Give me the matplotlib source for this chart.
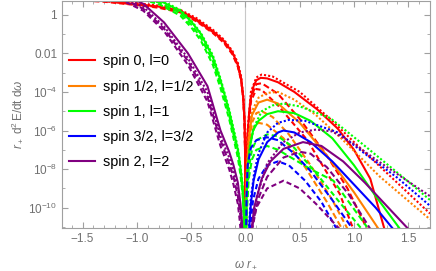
import numpy as np
import matplotlib.pyplot as plt
from matplotlib.ticker import FixedLocator, NullFormatter

plt.rcParams['font.family'] = ['Liberation Sans', 'DejaVu Sans']
plt.rcParams['mathtext.fontset'] = 'custom'
plt.rcParams['mathtext.rm'] = 'Liberation Sans'
plt.rcParams['mathtext.it'] = 'Liberation Sans:italic'

# values are log10(r+ d2E/dt dw)
# spin 0, l=0
w_s0_solid = [-1.7, -1.3, -1.0, -0.8, -0.6, -0.45, -0.3, -0.2, -0.12, -0.07, -0.04, -0.02, -0.008, -0.002, 0.0,
              0.002, 0.01, 0.02, 0.035, 0.05, 0.075, 0.1, 0.14, 0.2, 0.3, 0.45, 0.66, 0.85, 1.0, 1.15, 1.3]
y_s0_solid = [0.85, 0.72, 0.55, 0.42, 0.2, -0.25, -0.85, -1.35, -1.95, -2.6, -3.3, -4.3, -5.6, -7.6, -14,
              -9, -7.5, -6.2, -5.0, -4.3, -3.7, -3.4, -3.27, -3.3, -3.5, -4.0, -4.9, -5.9, -7.0, -8.5, -11.5]
w_s0_dot = [-1.7, -1.3, -1.0, -0.8, -0.6, -0.45, -0.3, -0.2, -0.12, -0.07, -0.04, -0.02, -0.008, -0.002, 0.0,
            0.01, 0.02, 0.05, 0.1, 0.15, 0.25, 0.5, 0.8, 1.0, 1.34, 1.7]
y_s0_dot = [0.9, 0.77, 0.6, 0.47, 0.25, -0.18, -0.78, -1.28, -1.88, -2.5, -3.2, -4.2, -5.5, -7.5, -14,
            -7.5, -6.0, -4.0, -3.25, -3.1, -3.2, -4.0, -5.5, -6.6, -8.4, -10.3]
w_s0_dash = [-1.7, -1.3, -1.0, -0.8, -0.6, -0.45, -0.3, -0.2, -0.12, -0.07, -0.04, -0.02, -0.008, -0.002, 0.0,
             0.01, 0.02, 0.05, 0.1, 0.15, 0.3, 0.57, 0.87, 1.0]
y_s0_dash = [0.8, 0.67, 0.5, 0.36, 0.12, -0.35, -0.95, -1.45, -2.05, -2.7, -3.4, -4.4, -5.7, -7.7, -14,
             -7.8, -6.5, -4.5, -3.85, -3.9, -4.7, -6.5, -9.3, -11.2]
w_s0_dash2 = [-1.7, -1.3, -1.0, -0.8, -0.6, -0.45, -0.3, -0.2, -0.12, -0.07, -0.04, -0.02, -0.008, -0.002, 0.0,
              0.01, 0.02, 0.05, 0.1, 0.15, 0.3, 0.5, 0.75, 0.94, 1.12]
y_s0_dash2 = [0.83, 0.7, 0.52, 0.39, 0.16, -0.3, -0.9, -1.4, -2.0, -2.65, -3.35, -4.35, -5.65, -7.65, -14,
              -7.6, -6.3, -4.3, -3.6, -3.55, -4.1, -5.4, -7.3, -9.0, -11.1]

# spin 1/2, l=1/2
w_s12_solid = [0.0, 0.01, 0.03, 0.06, 0.12, 0.2, 0.3, 0.5, 0.75, 1.0, 1.25]
y_s12_solid = [-14, -8.5, -6.5, -5.2, -4.55, -4.4, -4.6, -5.6, -7.3, -9.2, -11.3]
w_s12_dot = [0.0, 0.01, 0.03, 0.06, 0.12, 0.2, 0.3, 0.45, 0.65, 0.9, 1.24, 1.7]
y_s12_dot = [-14, -8.5, -6.3, -5.0, -4.3, -4.05, -4.0, -4.4, -5.2, -6.5, -8.4, -10.6]
w_s12_dash = [0.0, 0.01, 0.03, 0.06, 0.1, 0.15, 0.25, 0.4, 0.6, 0.8, 0.95]
y_s12_dash = [-14, -9, -7, -5.6, -5.1, -5.0, -5.3, -6.2, -7.8, -9.6, -11.2]
w_s12_dash2 = [0.0, 0.015, 0.04, 0.08, 0.12, 0.2, 0.35, 0.55, 0.75, 0.9]
y_s12_dash2 = [-14, -8.5, -6.6, -5.8, -5.6, -5.7, -6.4, -7.9, -9.7, -11.2]

# spin 1, l=1
w_s1_solid = [-1.7, -1.3, -1.0, -0.78, -0.6, -0.5, -0.41, -0.3, -0.23, -0.15, -0.11, -0.07, -0.046, -0.025, -0.012, 0.0,
              0.01, 0.02, 0.04, 0.07, 0.12, 0.2, 0.3, 0.45, 0.6, 0.8, 1.0, 1.2, 1.45]
y_s1_solid = [1.5, 1.3, 1.05, 0.7, 0.2, -0.35, -1.0, -2.2, -3.4, -5.0, -6.0, -7.0, -7.9, -9.0, -10.5, -14,
              -9.5, -8.0, -6.9, -6.0, -5.5, -5.15, -5.0, -5.1, -5.5, -6.4, -7.8, -9.4, -11.3]
w_s1_dot = [-1.7, -1.3, -1.0, -0.78, -0.6, -0.5, -0.41, -0.3, -0.23, -0.15, -0.11, -0.07, -0.046, -0.025, -0.012, 0.0,
            0.01, 0.02, 0.04, 0.08, 0.15, 0.25, 0.35, 0.5, 0.78, 1.1, 1.49, 1.7]
y_s1_dot = [1.55, 1.35, 1.1, 0.75, 0.25, -0.3, -0.95, -2.1, -3.3, -4.9, -5.9, -6.9, -7.8, -8.9, -10.4, -14,
            -9.5, -8.0, -6.8, -5.8, -5.0, -4.7, -4.6, -4.75, -5.35, -6.8, -8.6, -9.6]
w_s1_dash = [-1.7, -1.3, -1.0, -0.78, -0.6, -0.5, -0.41, -0.3, -0.23, -0.15, -0.11, -0.07, -0.046, -0.025, -0.012, 0.0,
             0.01, 0.03, 0.06, 0.1, 0.2, 0.3, 0.45, 0.65, 0.85, 1.1]
y_s1_dash = [1.4, 1.2, 0.9, 0.5, -0.05, -0.65, -1.35, -2.6, -3.8, -5.4, -6.4, -7.4, -8.3, -9.4, -10.9, -14,
             -10.0, -8.0, -7.0, -6.5, -6.2, -6.3, -6.9, -8.2, -9.6, -11.3]
w_s1_dash2 = [-1.7, -1.3, -1.0, -0.78, -0.6, -0.5, -0.41, -0.3, -0.23, -0.15, -0.11, -0.07, -0.046, -0.025, -0.012, 0.0,
              0.01, 0.03, 0.06, 0.1, 0.2, 0.3, 0.45, 0.6, 0.81, 1.12]
y_s1_dash2 = [1.45, 1.25, 0.97, 0.6, 0.08, -0.5, -1.2, -2.4, -3.6, -5.2, -6.2, -7.2, -8.1, -9.2, -10.7, -14,
              -10.5, -8.5, -7.5, -7.0, -6.8, -7.0, -7.5, -8.0, -8.6, -11.0]

# spin 3/2, l=3/2
w_s32_solid = [0.02, 0.035, 0.05, 0.075, 0.12, 0.2, 0.3, 0.35, 0.45, 0.6, 0.8, 1.0, 1.2, 1.36]
y_s32_solid = [-14, -11, -9.8, -8.6, -7.5, -6.6, -6.1, -6.0, -6.1, -6.6, -7.6, -8.8, -10.0, -11.1]
w_s32_dot = [0.02, 0.035, 0.05, 0.08, 0.12, 0.2, 0.3, 0.4, 0.55, 0.85, 1.1, 1.4, 1.7]
y_s32_dot = [-14, -10.8, -9.5, -8.2, -7.2, -6.1, -5.6, -5.45, -5.5, -6.1, -7.2, -8.45, -9.9]
w_s32_dash = [0.03, 0.045, 0.07, 0.12, 0.2, 0.3, 0.4, 0.55, 0.7, 0.85]
y_s32_dash = [-14, -11, -9.6, -8.5, -7.8, -7.6, -7.8, -8.6, -9.7, -11.2]
w_s32_dash2 = [0.0, 0.01, 0.02, 0.05, 0.1, 0.2, 0.3, 0.45, 0.6, 0.8, 1.0]
y_s32_dash2 = [-14, -9.5, -7.8, -6.9, -6.5, -6.35, -6.5, -7.2, -8.1, -9.6, -11.2]

# spin 2, l=2
w_s2_solid = [-1.7, -1.3, -1.1, -0.94, -0.75, -0.53, -0.35, -0.23, -0.15, -0.11, -0.07, -0.046, -0.035, -0.02, 0.0,
              0.03, 0.05, 0.08, 0.15, 0.23, 0.35, 0.53, 0.7, 0.9, 1.1, 1.3, 1.5]
y_s2_solid = [2.0, 1.4, 1.0, 0.56, -0.4, -2.0, -3.7, -6.0, -7.1, -7.8, -8.7, -9.8, -10.5, -12, -14,
              -14, -11.5, -10, -8.5, -7.6, -6.95, -6.6, -6.8, -7.6, -8.7, -9.9, -11.1]
w_s2_dot = [-1.7, -1.3, -1.1, -0.94, -0.75, -0.53, -0.35, -0.23, -0.15, -0.11, -0.07, -0.046, -0.035, -0.02, 0.0,
            0.03, 0.06, 0.1, 0.2, 0.35, 0.5, 0.65, 0.8, 1.0, 1.2, 1.45, 1.7]
y_s2_dot = [1.9, 1.3, 0.85, 0.4, -0.6, -2.25, -4.0, -6.3, -7.4, -8.1, -9.0, -10.1, -10.8, -12.3, -14,
            -14, -11, -9.5, -7.7, -6.6, -6.1, -5.95, -6.05, -6.7, -7.5, -8.45, -9.4]
w_s2_dash = [-1.7, -1.3, -1.1, -0.94, -0.75, -0.53, -0.35, -0.23, -0.15, -0.11, -0.07, -0.05, -0.04, 0.0,
             0.04, 0.06, 0.1, 0.2, 0.35, 0.5, 0.65, 0.8, 0.9]
y_s2_dash = [1.7, 1.1, 0.65, 0.2, -0.85, -2.6, -4.5, -6.8, -8.0, -8.8, -9.8, -10.8, -11.6, -14,
             -14, -11.2, -10.0, -9.0, -8.6, -9.0, -9.8, -10.7, -11.3]
w_s2_dash2 = [-1.7, -1.3, -1.1, -0.94, -0.75, -0.53, -0.35, -0.23, -0.15, -0.11, -0.07, -0.045, -0.035, 0.0,
              0.035, 0.06, 0.12, 0.2, 0.35, 0.5, 0.6, 0.75, 0.95, 1.15]
y_s2_dash2 = [1.8, 1.2, 0.75, 0.3, -0.72, -2.4, -4.25, -6.5, -7.7, -8.4, -9.4, -10.5, -11.2, -14,
              -14, -11, -9.5, -8.4, -7.4, -7.1, -7.2, -7.9, -9.3, -11.1]

colors = ['#ff0000', '#ff8000', '#00ff00', '#0000ff', '#800080']
labels = ['spin 0, l=0', 'spin 1/2, l=1/2', 'spin 1, l=1', 'spin 3/2, l=3/2', 'spin 2, l=2']
curves = [
    [(w_s0_dot, y_s0_dot), (w_s0_dash, y_s0_dash), (w_s0_dash2, y_s0_dash2), (w_s0_solid, y_s0_solid)],
    [(w_s12_dot, y_s12_dot), (w_s12_dash, y_s12_dash), (w_s12_dash2, y_s12_dash2), (w_s12_solid, y_s12_solid)],
    [(w_s1_dot, y_s1_dot), (w_s1_dash, y_s1_dash), (w_s1_dash2, y_s1_dash2), (w_s1_solid, y_s1_solid)],
    [(w_s32_dot, y_s32_dot), (w_s32_dash, y_s32_dash), (w_s32_dash2, y_s32_dash2), (w_s32_solid, y_s32_solid)],
    [(w_s2_dot, y_s2_dot), (w_s2_dash, y_s2_dash), (w_s2_dash2, y_s2_dash2), (w_s2_solid, y_s2_solid)],
]
styles = [(0, (1, 1)), (0, (2.5, 1.5)), (0, (3, 1.5)), '-']

fig = plt.figure(figsize=(4.36, 2.71), dpi=100)
ax = fig.add_axes([62 / 436, 1 - 228 / 271, 368 / 436, 227 / 271])

ax.axvline(0, color='#c8c8c8', lw=0.8, zorder=0)

for col, lab, group in zip(colors, labels, curves):
    for (w, y), ls in zip(group, styles):
        ax.plot(w, 10.0 ** np.array(y), color=col, lw=1.5, ls=ls,
                label=lab if ls == '-' else None)

ax.set_yscale('log')
ax.set_xlim(-1.69, 1.70)
ax.set_ylim(10 ** -11.05, 10 ** 0.71)

ax.set_xticks([-1.5, -1.0, -0.5, 0.0, 0.5, 1.0, 1.5])
ax.xaxis.set_minor_locator(FixedLocator(np.arange(-1.7, 1.71, 0.1)))
ax.set_yticks([1, 1e-2, 1e-4, 1e-6, 1e-8, 1e-10])
ax.set_yticklabels(['1', '0.01', r'$10^{-4}$', r'$10^{-6}$', r'$10^{-8}$', r'$10^{-10}$'])
ax.yaxis.set_minor_locator(FixedLocator([10.0 ** k for k in range(-11, 1)]))
ax.yaxis.set_minor_formatter(NullFormatter())

gray = '#707070'
for s in ax.spines.values():
    s.set_color('#a0a0a0')
ax.tick_params(which='both', direction='in', top=True, right=True, color='#a0a0a0',
               labelcolor=gray, labelsize=8.5)
ax.tick_params(which='major', length=4)
ax.tick_params(which='minor', length=2)

ax.set_xlabel(r'$\omega\ r_+$', color=gray, fontsize=8.5, labelpad=10)
ax.set_ylabel(r'$r_+\ \mathrm{d}^2\,\mathrm{E/dt\ d}\omega$', color=gray, fontsize=8.5, labelpad=2)

ax.legend(loc='upper left', bbox_to_anchor=(0.02, 0.765), frameon=False, fontsize=10.4,
          handlelength=1.75, labelspacing=0.78, handletextpad=0.55, borderpad=0, borderaxespad=0)

fig.savefig('out.png', dpi=100)
